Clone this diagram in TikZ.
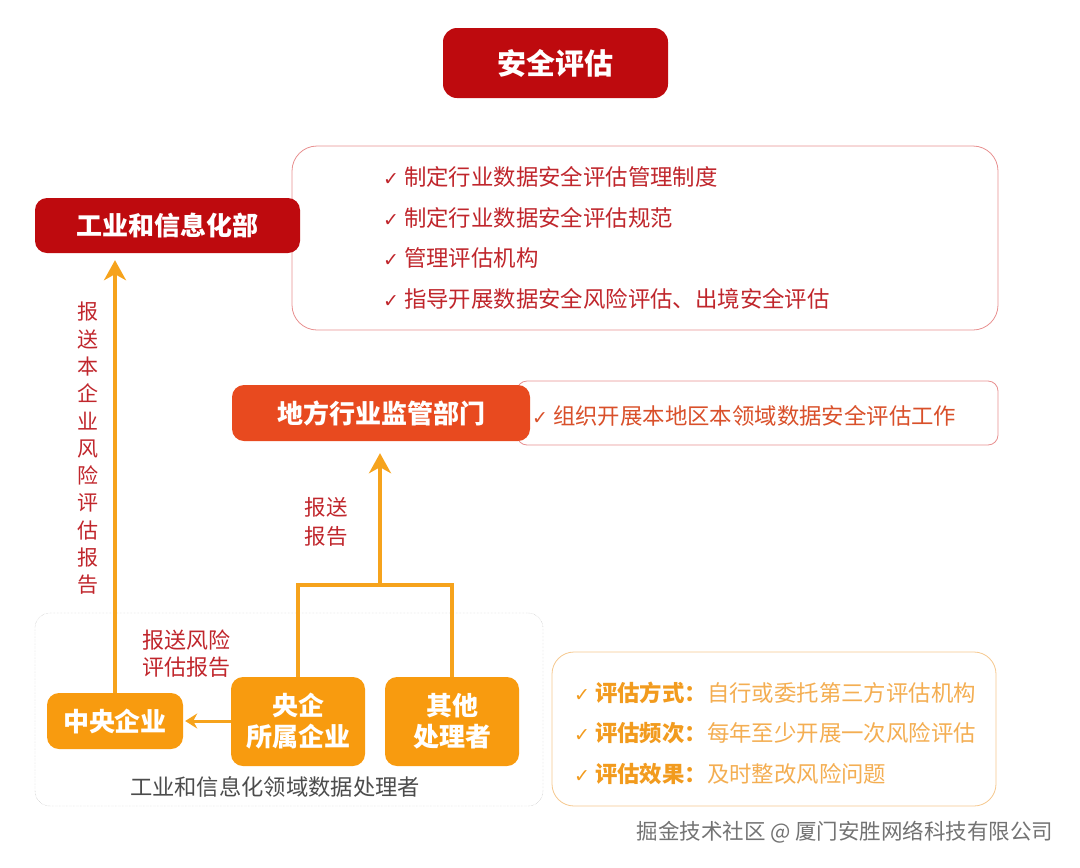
\documentclass[tikz,border=0pt]{standalone}
\usepackage{fontspec}
\setmainfont{Noto Sans CJK SC}
\newfontfamily\symfont{DejaVu Sans}
\usetikzlibrary{arrows.meta,positioning,calc}
\definecolor{deepred}{HTML}{BE0A0E}
\definecolor{localred}{HTML}{E84A1F}
\definecolor{procorange}{HTML}{F89B0F}
\definecolor{flowyellow}{HTML}{F6A31C}
\definecolor{textred}{HTML}{C0262C}
\definecolor{textorange}{HTML}{D9502A}
\definecolor{pinkline}{HTML}{E89090}
\definecolor{paleorange}{HTML}{F6C88E}
\definecolor{labelorange}{HTML}{F29B1E}
\definecolor{softorange}{HTML}{F4AE52}
\newcommand{\chk}{{\symfont\fontsize{19}{19}\selectfont ✓}}
\tikzset{
  headbox/.style={fill=#1, rounded corners=12pt, text=white, font=\bfseries\fontsize{26}{30}\selectfont, inner sep=0pt},
  dutybox/.style={draw=#1, fill=white, rounded corners=22pt, line width=0.8pt, inner sep=0pt},
  flow/.style={draw=flowyellow, line width=4pt},
  redlabel/.style={text=textred, align=center, inner sep=0pt}
}
\begin{document}
\begin{tikzpicture}[x=1pt,y=-1pt]
\useasboundingbox (0,0) rectangle (1080,868);
% title
\node[headbox=deepred, minimum width=225pt, minimum height=70pt, rounded corners=14pt,
  font=\bfseries\fontsize{29}{30}\selectfont] (title) at (555.5,63) {安全评估};
% ministry and its duties
\node[dutybox=pinkline, minimum width=706pt, minimum height=184pt, rounded corners=25pt] (miitduty) at (645,238) {};
\node[headbox=deepred, minimum width=265pt, minimum height=55pt] (miit) at (167.5,225.5) {工业和信息化部};
\node[anchor=west, align=left, text=textred, inner sep=0pt, font=\fontsize{22.4}{40.5}\selectfont] (miitlist) at (383,238)
  {\chk\ 制定行业数据安全评估管理制度\\\chk\ 制定行业数据安全评估规范\\\chk\ 管理评估机构\\\chk\ 指导开展数据安全风险评估、出境安全评估};
% local regulator
\node[dutybox=pinkline, minimum width=481pt, minimum height=64pt, rounded corners=10pt] (localduty) at (757.5,413) {};
\node[headbox=localred, minimum width=298pt, minimum height=56pt] (local) at (381,413) {地方行业监管部门};
\node[anchor=west, text=textorange, inner sep=0pt, font=\fontsize{22.4}{26}\selectfont] (locallist) at (532,416)
  {\chk\ 组织开展本地区本领域数据安全评估工作};
% data processors
\node[draw=gray!65, densely dotted, rounded corners=15pt, minimum width=508pt, minimum height=193pt] (procs) at (289,709.5) {};
\node[headbox=procorange, minimum width=136pt, minimum height=56pt] (central) at (115,721) {中央企业};
\node[headbox=procorange, minimum width=134pt, minimum height=89pt, align=center,
  font=\bfseries\fontsize{26}{31}\selectfont] (sub) at (298,721.5) {央企\\所属企业};
\node[headbox=procorange, minimum width=134pt, minimum height=89pt, align=center,
  font=\bfseries\fontsize{26}{31}\selectfont] (other) at (452,721.5) {其他\\处理者};
\node[text=black!70, inner sep=0pt, font=\fontsize{22.3}{26}\selectfont] (procname) at (275,787) {工业和信息化领域数据处理者};
% evaluation rules
\node[dutybox=paleorange, minimum width=444pt, minimum height=154pt] (rules) at (774,729) {};
\node[anchor=west, align=left, text=softorange, inner sep=0pt, font=\fontsize{22.4}{40.5}\selectfont] (rulelist) at (574,733)
  {{\color{labelorange}\chk\ \textbf{评估方式：}}自行或委托第三方评估机构\\
   {\color{labelorange}\chk\ \textbf{评估频次：}}每年至少开展一次风险评估\\
   {\color{labelorange}\chk\ \textbf{评估效果：}}及时整改风险问题};
% connectors
\coordinate (junc) at (380,585);
\draw[flow, -{Stealth[length=20pt,width=22pt,inset=6pt]}, shorten >=7pt]
  (central.north) -- (central.north |- miit.south);
\draw[flow] (sub.north) |- (other.north |- junc) -- (other.north);
\draw[flow, -{Stealth[length=20pt,width=22pt,inset=6pt]}, shorten >=12pt] (junc) -- (junc |- local.south);
\draw[flow, line width=3pt, -{Stealth[length=12pt,width=15pt,inset=4pt]}, shorten >=2pt] (sub.west |- central) -- (central.east);
% labels on the connectors
\node[redlabel, font=\fontsize{21}{27.3}\selectfont] (reportup) at (88,448.5) {报\\送\\本\\企\\业\\风\\险\\评\\估\\报\\告};
\node[redlabel, font=\fontsize{21.5}{29}\selectfont] (reportlocal) at (326,521.5) {报送\\报告};
\node[redlabel, font=\fontsize{22}{27}\selectfont] (reportcentral) at (186,653.5) {报送风险\\评估报告};
% footer
\node[text=black!55, inner sep=0pt, font=\fontsize{21.5}{24}\selectfont] (footer) at (845,832) {掘金技术社区 @ 厦门安胜网络科技有限公司};
\end{tikzpicture}
\end{document}
